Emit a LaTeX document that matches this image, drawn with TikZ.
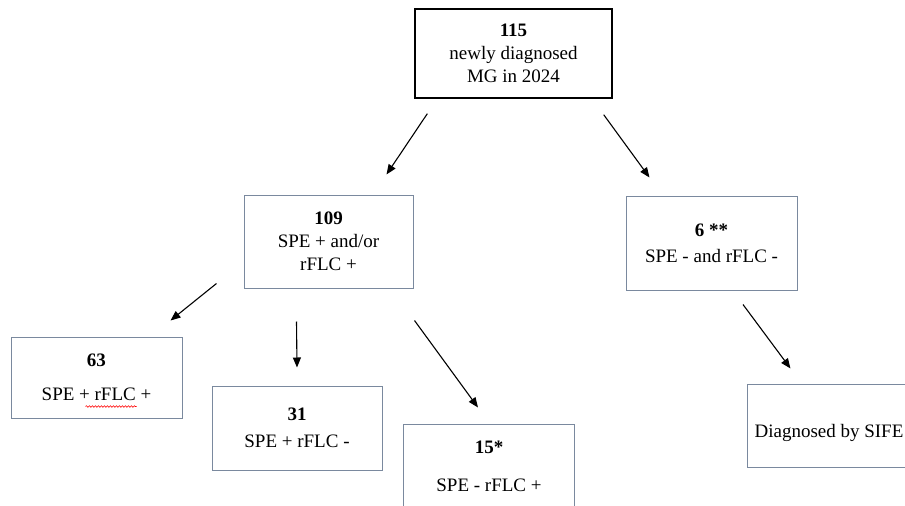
\documentclass[tikz,border=0pt]{standalone}
\usepackage{fontspec}
\setmainfont{Liberation Serif}
\usetikzlibrary{arrows.meta,decorations.pathmorphing}
\definecolor{boxgray}{RGB}{122,137,158}

\begin{document}
\begin{tikzpicture}
    [x=1pt,y=-1pt,
    box/.style={
      rectangle,
      draw=#1, line width=1pt,
      inner sep=0pt,
      minimum width=171pt,
      align=center,
      font=\fontsize{19}{23}\selectfont
      },
    box/.default=boxgray,
    arr/.style={-{Triangle[length=10pt,width=8pt]}, line width=1.1pt}]

    \useasboundingbox (0,0) rectangle (905,506);
    \clip (0,0) rectangle (905,506);

    % boxes
    \node (top) [box=black, line width=1.4pt, minimum width=197pt, minimum height=89pt] at (513.5,53.5) {\textbf{115}\\newly diagnosed\\MG in 2024};
    \node (n109)[box, minimum width=169pt, minimum height=93pt] at (328.5,241.5) {\textbf{109}\\SPE + and/or\\rFLC +};
    \node (n6)  [box, minimum height=94pt] at (711.5,243) {\textbf{6 **}\\[3pt]SPE - and rFLC -};
    \node (n63) [box, minimum height=81pt] at (96.5,377.5) {\textbf{63}\\[11pt]SPE + rFLC +};
    \node (n31) [box, minimum width=170pt, minimum height=84pt] at (297,428) {\textbf{31}\\[4pt]SPE + rFLC -};
    \node (n15) [box, minimum height=84pt] at (489,466) {\textbf{15*}\\[15pt]SPE - rFLC +};
    \node (sife)[box, minimum height=83pt] at (832.5,425.5) {\raisebox{-7pt}[\height][\depth]{\kern-7pt Diagnosed by SIFE}};

    % arrows
    \draw[arr] ([shift={(13,15)}]top.south west) -- ([shift={(-27,-20)}]n109.north east);
    \draw[arr] ([shift={(-9,16)}]top.south east) -- ([shift={(24,-18)}]n6.north west);
    \draw[arr] ([shift={(-27,-5)}]n109.south west) -- ([shift={(-12,-16)}]n63.north east);
    \draw[arr] ([shift={(53,33)}]n109.south west) -- ([shift={(0,-18)}]n31.north);
    \draw[arr] ([shift={(1,32)}]n109.south east) -- ([shift={(-11,-16)}]n15.north);
    \draw[arr] ([shift={(31.5,14)}]n6.south) -- ([shift={(44,-15)}]sife.north west);

    % spell-check squiggle
    \draw[red, line width=0.6pt, decorate, decoration={snake, amplitude=0.8pt, segment length=3pt}]
      ([shift={(75,70)}]n63.north west) -- ([shift={(126,70)}]n63.north west);

\end{tikzpicture}
\end{document}
